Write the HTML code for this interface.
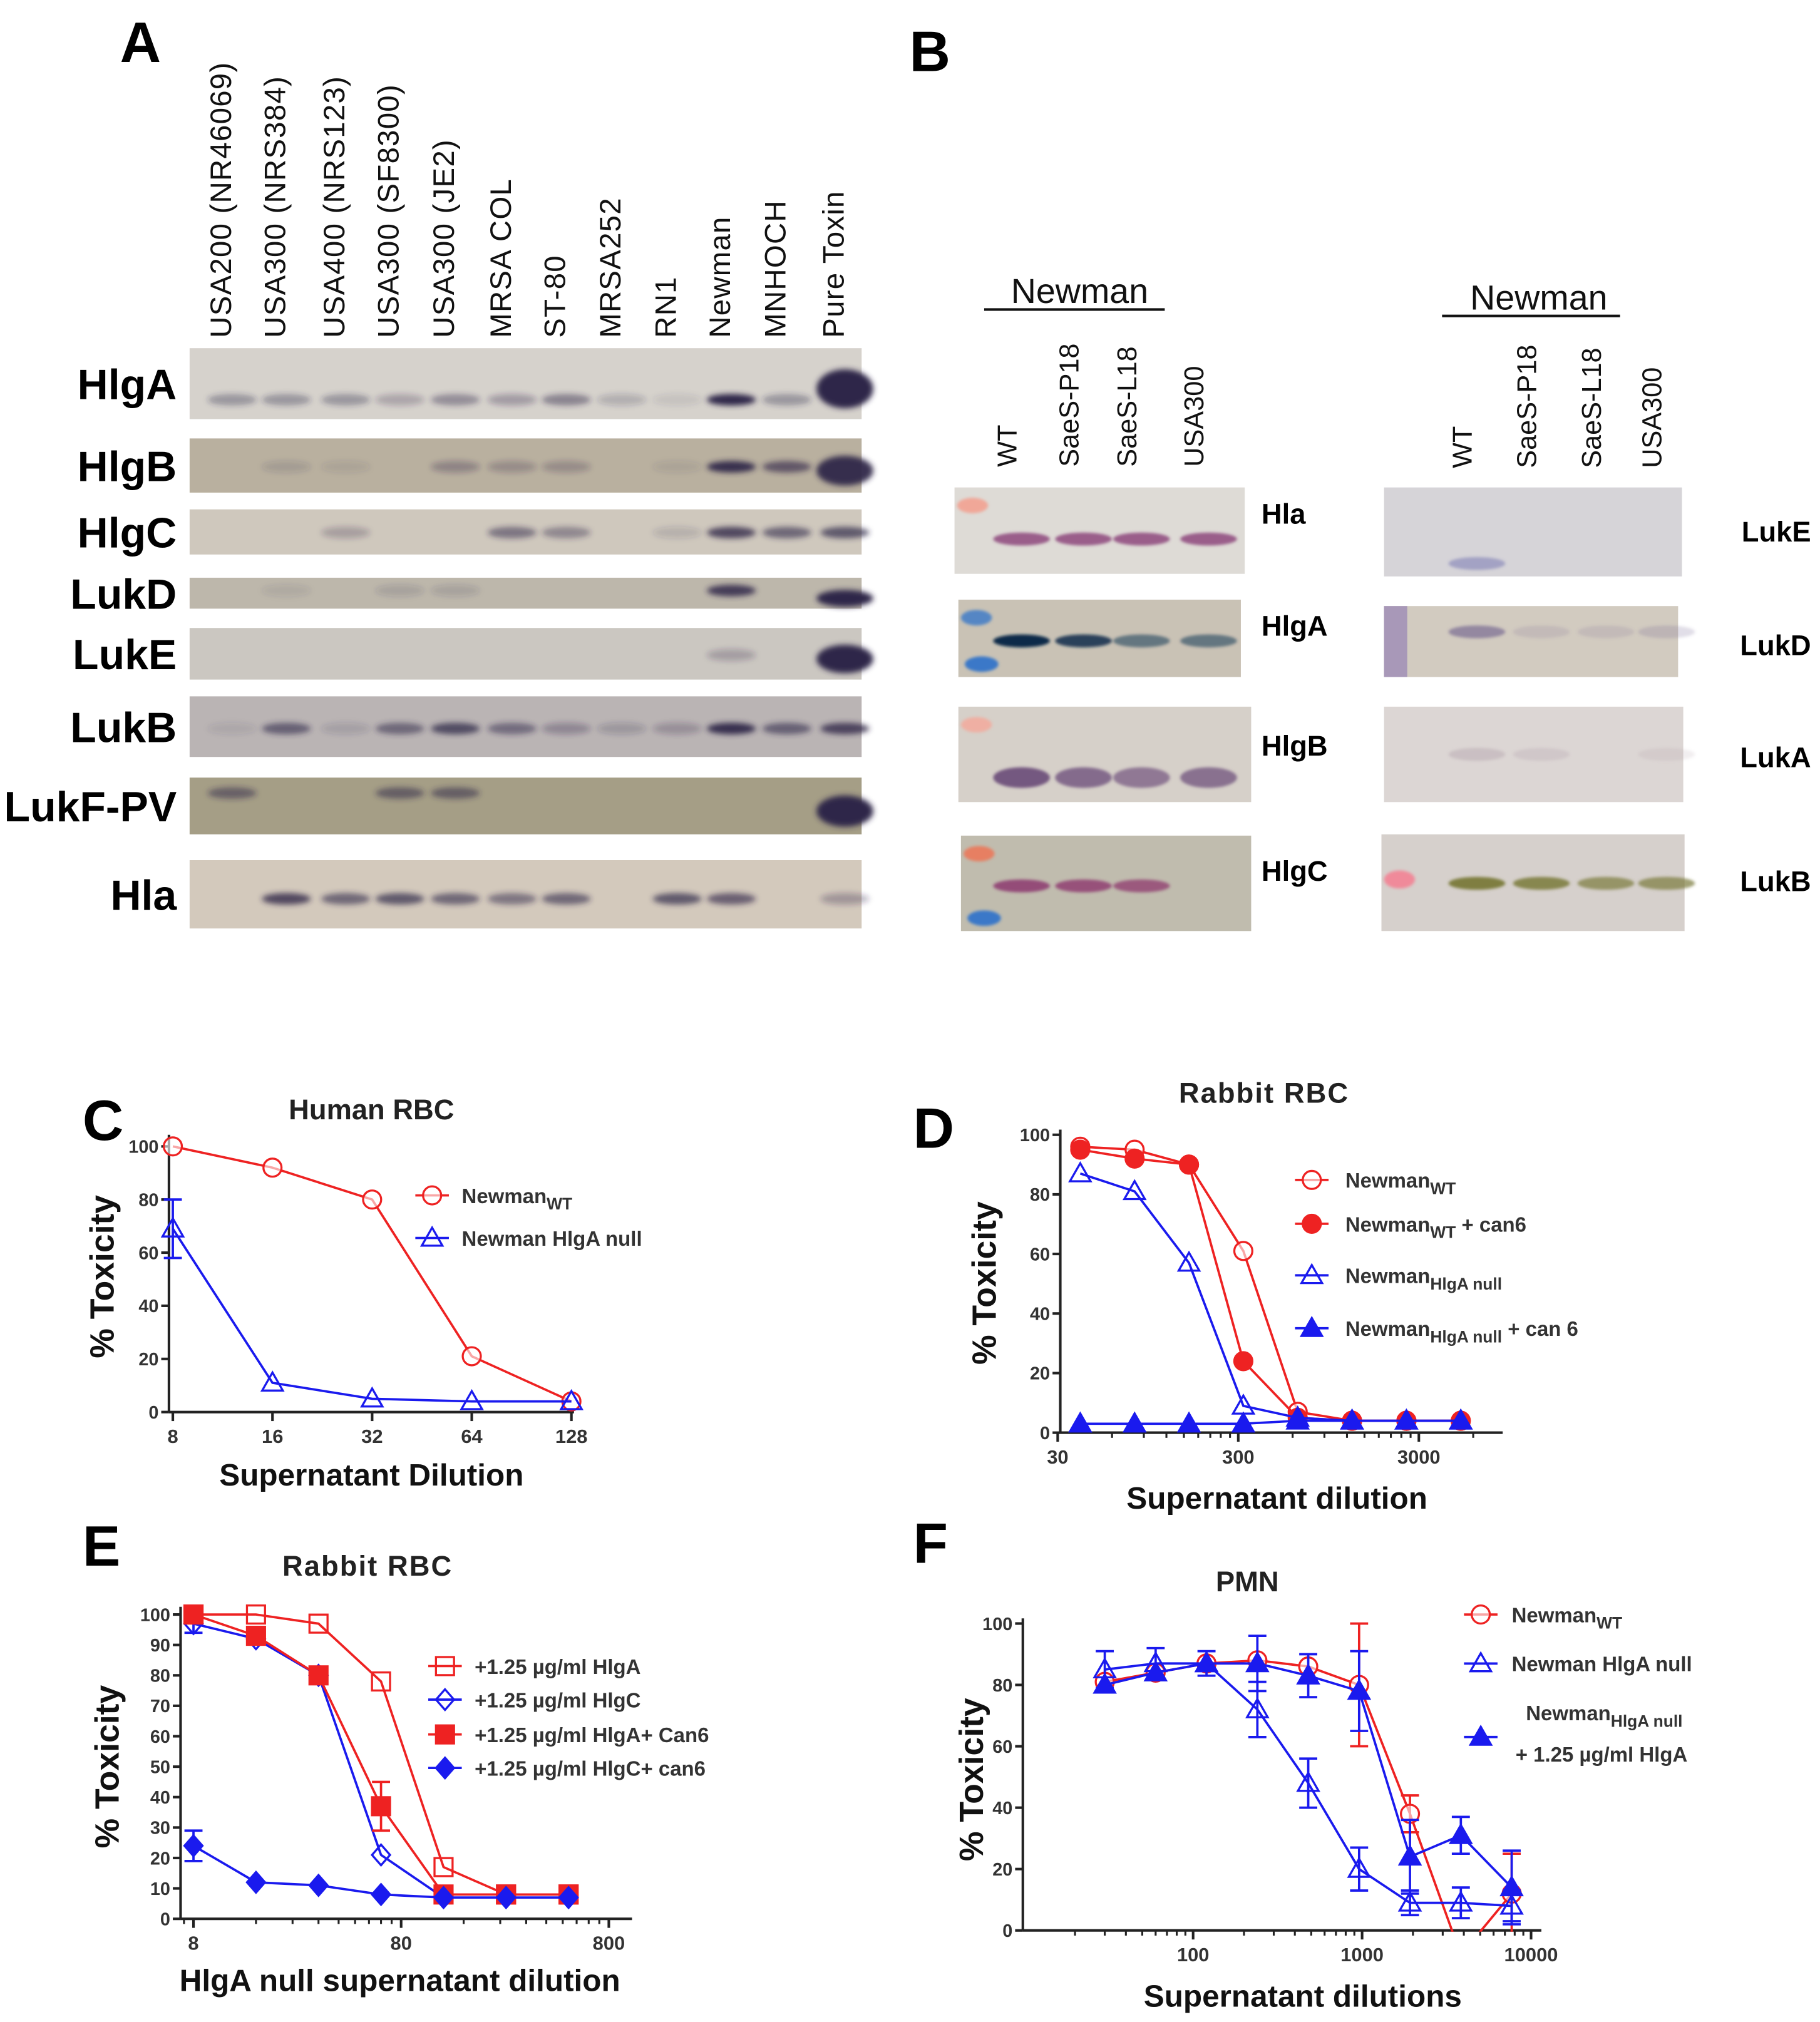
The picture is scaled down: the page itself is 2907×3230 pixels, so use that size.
<!DOCTYPE html>
<html><head><meta charset="utf-8"><style>
html,body{margin:0;padding:0;background:#fff;}
svg{display:block;}
text{font-family:"Liberation Sans",Arial,sans-serif;}
</style></head><body>
<svg id="fig" width="2907" height="3230" viewBox="0 0 1411 1568" preserveAspectRatio="none" xmlns="http://www.w3.org/2000/svg">
<defs>
<filter id="blur" x="-20%" y="-50%" width="140%" height="200%"><feGaussianBlur stdDeviation="2.2"/></filter>
<filter id="blur2" x="-20%" y="-50%" width="140%" height="200%"><feGaussianBlur stdDeviation="1.2"/></filter>
</defs>
<rect x="0" y="0" width="1411" height="1568" fill="#fff"/>
<g id="panelA"></g>
<g id="panelB"></g>
<g id="charts"></g>
</svg>
<script>
const NS="http://www.w3.org/2000/svg";
function el(parent,tag,attrs,txt){const e=document.createElementNS(NS,tag);for(const k in attrs)e.setAttribute(k,attrs[k]);if(txt!==undefined)e.textContent=txt;parent.appendChild(e);return e;}

/* ---------------- Panel A (western blots) ---------------- */
const laneNamesA=["USA200 (NR46069)","USA300 (NRS384)","USA400 (NRS123)","USA300 (SF8300)","USA300 (JE2)","MRSA COL","ST-80","MRSA252","RN1","Newman","MNHOCH","Pure Toxin"];
const laneXA=[170,212,258,300,343,387,429,472,515,557,600,645];
const rowsA=[
 {name:"HlgA",y0:270,y1:325,by:310,bg:"#d6d2cc",bands:[[0,.35],[1,.35],[2,.35],[3,.25],[4,.4],[5,.3],[6,.45],[7,.2],[8,.1],[9,1],[10,.35],[11,1]]},
 {name:"HlgB",y0:340,y1:382,by:362,bg:"#b9b09f",bands:[[1,.15],[2,.1],[4,.3],[5,.25],[6,.25],[8,.1],[9,.95],[10,.65],[11,.95]]},
 {name:"HlgC",y0:395,y1:430,by:413,bg:"#cfc8bd",bands:[[2,.25],[5,.5],[6,.4],[8,.15],[9,.8],[10,.6],[11,.7]]},
 {name:"LukD",y0:448,y1:472,by:458,bg:"#bdb7ab",bands:[[1,.1],[3,.15],[4,.15],[9,.85],[11,1]]},
 {name:"LukE",y0:487,y1:527,by:508,bg:"#cbc7c1",bands:[[9,.25],[11,1]]},
 {name:"LukB",y0:540,y1:587,by:565,bg:"#bab4b4",bands:[[0,.1],[1,.6],[2,.15],[3,.55],[4,.75],[5,.5],[6,.3],[7,.2],[8,.25],[9,.95],[10,.6],[11,.8]]},
 {name:"LukF-PV",y0:603,y1:647,by:615,bg:"#a59e86",bands:[[0,.5],[3,.55],[4,.55],[11,1]]},
 {name:"Hla",y0:667,y1:720,by:697,bg:"#d3c9bc",bands:[[1,.8],[2,.6],[3,.7],[4,.6],[5,.5],[6,.6],[8,.7],[9,.65],[11,.3]]}
];
(function(){
 const g=document.getElementById("panelA");
 const L=el(g,"text",{x:93,y:48,"font-size":44,"font-weight":"bold",fill:"#000"},"A");
 
 
 laneNamesA.forEach((n,i)=>{
  const t=el(g,"text",{x:0,y:0,"font-size":23,fill:"#111","letter-spacing":0.6,transform:`translate(${laneXA[i]+9},262) rotate(-90)`},n);
  
  
 });
 rowsA.forEach(r=>{
  const rg=el(g,"g",{});
  
  
  el(rg,"rect",{x:147,y:r.y0,width:521,height:r.y1-r.y0,fill:r.bg});
  r.bands.forEach(b=>{
   const cx=laneXA[b[0]]+10;
   const big=(b[0]===11&&b[1]>=.95);
   const h=big?(r.y1-r.y0)*0.55:9;
   const e=el(rg,"ellipse",{cx:cx,cy:big?(r.y0+r.y1)/2+4:r.by,rx:big?22:19,ry:h/2,fill:"#2e2648","fill-opacity":b[1],filter:"url(#blur)"});
   
   
  });
  const t=el(g,"text",{x:137,y:(r.y0+r.y1)/2+12,"font-size":33,"font-weight":"bold","text-anchor":"end",fill:"#000"},r.name);
  
  
 });
})();

/* ---------------- Panel B (western blots) ---------------- */
const laneNamesB=["WT","SaeS-P18","SaeS-L18","USA300"];
const laneXBL=[780,828,873,925];
const laneXBR=[1133,1183,1233,1280];
const blotsBL=[
 {name:"Hla",x0:740,x1:965,y0:378,y1:445,by:418,bg:"#dedbd6",col:"#8a3f78",ly:398,bands:[[0,.8],[1,.8],[2,.8],[3,.8]],ladder:"#f59a8a"},
 {name:"HlgA",x0:743,x1:962,y0:465,y1:525,by:497,bg:"#c9c2b5",col:"#0a2a4a",ly:485,bands:[[0,1],[1,.85],[2,.5],[3,.5]],ladder:"#3a78c8"},
 {name:"HlgB",x0:743,x1:970,y0:548,y1:622,by:603,bg:"#d6d0c9",col:"#6a4a78",ly:578,bands:[[0,.9],[1,.75],[2,.65],[3,.7]],ladder:"#f5a898"},
 {name:"HlgC",x0:745,x1:970,y0:648,y1:722,by:687,bg:"#c0bcae",col:"#8a2f6a",ly:675,bands:[[0,.8],[1,.75],[2,.7]],ladder:"#f07050"}
];
const blotsBR=[
 {name:"LukE",x0:1073,x1:1304,y0:378,y1:447,by:437,bg:"#d6d4d8",col:"#7070b0",ly:412,bands:[[0,.5]]},
 {name:"LukD",x0:1073,x1:1301,y0:470,y1:525,by:490,bg:"#d2cbc0",col:"#6a5a8a",ly:500,bands:[[0,.6],[1,.15],[2,.15],[3,.2]]},
 {name:"LukA",x0:1073,x1:1305,y0:548,y1:622,by:585,bg:"#dcd6d4",col:"#a08a9a",ly:587,bands:[[0,.3],[1,.2],[3,.15]]},
 {name:"LukB",x0:1071,x1:1306,y0:647,y1:722,by:685,bg:"#d6d0cc",col:"#7a7a3a",ly:683,bands:[[0,.95],[1,.85],[2,.7],[3,.7]]}
];
(function(){
 const g=document.getElementById("panelB");
 const L=el(g,"text",{x:705,y:55,"font-size":44,"font-weight":"bold",fill:"#000"},"B");
 
 
 [[837,235,763,903,240,laneXBL],[1193,240,1118,1256,245,laneXBR]].forEach((h,k)=>{
  const t=el(g,"text",{x:h[0],y:h[1],"font-size":27,"text-anchor":"middle",fill:"#111"},"Newman");
  
  
  el(g,"line",{x1:h[2],x2:h[3],y1:h[4],y2:h[4],stroke:"#111","stroke-width":2});
  laneNamesB.forEach((n,i)=>{
   const lt=el(g,"text",{x:0,y:0,"font-size":21,fill:"#111",transform:`translate(${h[5][i]+8},${k?363:362}) rotate(-90)`},n);
   
   
  });
 });
 function drawBlot(b,lanes,labX,anchor){
  const rg=el(g,"g",{});
  
  
  el(rg,"rect",{x:b.x0,y:b.y0,width:b.x1-b.x0,height:b.y1-b.y0,fill:b.bg});
  if(b.ladder){
   el(rg,"ellipse",{cx:b.x0+14,cy:b.y0+14,rx:12,ry:6,fill:b.ladder,"fill-opacity":.8,filter:"url(#blur2)"});
   if(b.name==="HlgA"||b.name==="HlgC") el(rg,"ellipse",{cx:b.x0+18,cy:b.y1-10,rx:13,ry:6,fill:"#3a78c8",filter:"url(#blur2)"});
  }
  if(b.name==="LukD") el(rg,"rect",{x:b.x0,y:b.y0,width:18,height:b.y1-b.y0,fill:"#a898b8"});
  if(b.name==="LukB") el(rg,"ellipse",{cx:b.x0+14,cy:b.by-3,rx:12,ry:7,fill:"#f08a9a",filter:"url(#blur2)"});
  b.bands.forEach(bd=>{
   const e=el(rg,"ellipse",{cx:lanes[bd[0]]+12,cy:b.by,rx:22,ry:b.name==="HlgB"?8:5,fill:b.col,"fill-opacity":bd[1],filter:"url(#blur2)"});
   
   
  });
  const t=el(g,"text",{x:labX,y:b.ly+8,"font-size":22,"font-weight":"bold","text-anchor":anchor,fill:"#000"},b.name);
  
  
 }
 blotsBL.forEach(b=>drawBlot(b,laneXBL,978,"start"));
 blotsBR.forEach(b=>drawBlot(b,laneXBR,1404,"end"));
})();

/* ---------------- Chart data ---------------- */
// Panel C
const cX=[8,16,32,64,128];
const cWT=[100,92,80,21,4];
const cNull=[69,11,5,4,4];
const cNullErr=[11,0,0,0,0];
const cXTicks=[8,16,32,64,128];
const cYTicks=[0,20,40,60,80,100];
// Panel D
const dX=[40,80,160,320,640,1280,2560,5120];
const dWT=[96,95,90,61,7,4,4,4];
const dWTcan=[95,92,90,24,5,4,4,4];
const dNull=[87,81,57,9,5,4,4,4];
const dNullCan=[3,3,3,3,4,4,4,4];
const dXTicks=[30,300,3000];
const dYTicks=[0,20,40,60,80,100];
// Panel E
const eX=[8,16,32,64,128,256,512];
const eHlgA=[100,100,97,78,17,8,8];
const eHlgC=[97,92,80,21,7,7,7];
const eHlgCErr=[3,0,0,0,0,0,0];
const eHlgAcan=[100,93,80,37,8,8,8];
const eHlgAcanErr=[0,0,0,8,0,0,0];
const eHlgCcan=[24,12,11,8,7,7,7];
const eHlgCcanErr=[5,0,0,0,0,0,0];
const eXTicks=[8,80,800];
const eYTicks=[0,10,20,30,40,50,60,70,80,90,100];
// Panel F
const fX=[30,60,120,240,480,960,1920,3840,7680];
const fWT=[81,84,87,88,86,80,38,-8,12];
const fWTErr=[0,0,0,0,0,20,6,0,13];
const fNull=[85,87,87,72,48,20,9,9,8];
const fNullErr=[6,5,4,9,8,7,4,5,5];
const fNullA=[80,84,87,87,83,78,24,31,14];
const fNullAErr=[0,0,0,9,7,13,12,6,12];
const fXTicks=[100,1000,10000];
const fYTicks=[0,20,40,60,80,100];

const RED="#ee2222", BLUE="#1a1aee";

function marker(g,type,x,y,color,name){
 let m;const r=7;
 if(type==="circle"||type==="fcircle") m=el(g,"circle",{cx:x,cy:y,r:r,fill:type==="fcircle"?color:"#fff","fill-opacity":type==="fcircle"?1:0.6,stroke:color,"stroke-width":1.6});
 else if(type==="tri"||type==="ftri") m=el(g,"polygon",{points:`${x},${y-8} ${x-8},${y+6} ${x+8},${y+6}`,fill:type==="ftri"?color:"none",stroke:color,"stroke-width":1.6});
 else if(type==="sq"||type==="fsq") m=el(g,"rect",{x:x-7,y:y-7,width:14,height:14,fill:type==="fsq"?color:"none",stroke:color,"stroke-width":1.6});
 else m=el(g,"polygon",{points:`${x},${y-8} ${x+7},${y} ${x},${y+8} ${x-7},${y}`,fill:type==="fdia"?color:"none",stroke:color,"stroke-width":1.6});
 
 
 return m;
}

function chart(cfg){
 const root=document.getElementById("charts");
 const g=el(root,"g",{});
 
 
 const lx0=Math.log10(cfg.xmin),lx1=Math.log10(cfg.xmax);
 const sx=v=>cfg.px0+(Math.log10(v)-lx0)/(lx1-lx0)*(cfg.px1-cfg.px0);
 const sy=v=>cfg.py0-(v-cfg.ymin)/(cfg.ymax-cfg.ymin)*(cfg.py0-cfg.py1);
 const pl=el(g,"text",{x:cfg.letter[1],y:cfg.letter[2],"font-size":44,"font-weight":"bold",fill:"#000"},cfg.letter[0]);
 
 
 const tt=el(g,"text",{x:cfg.title[1],y:cfg.title[2],"font-size":22,"font-weight":"bold","text-anchor":"middle",fill:"#222","letter-spacing":cfg.title[3]||0},cfg.title[0]);
 
 
 const ax=el(g,"g",{stroke:"#222","stroke-width":2});
 
 
 el(ax,"line",{x1:cfg.axX,x2:cfg.axX,y1:cfg.axYtop,y2:cfg.py0});
 el(ax,"line",{x1:cfg.axX,x2:cfg.axXend,y1:cfg.py0,y2:cfg.py0});
 cfg.yTicks.forEach(t=>{
  const y=sy(t);
  el(ax,"line",{x1:cfg.axX-6,x2:cfg.axX,y1:y,y2:y});
  const lt=el(g,"text",{x:cfg.axX-8,y:y+5,"font-size":14,"font-weight":"bold","text-anchor":"end",fill:"#333"},String(t));
  
  
 });
 cfg.xTicks.forEach(t=>{
  const x=sx(t);
  el(ax,"line",{x1:x,x2:x,y1:cfg.py0,y2:cfg.py0+7});
  const lt=el(g,"text",{x:x,y:cfg.py0+24,"font-size":15,"font-weight":"bold","text-anchor":"middle",fill:"#333"},String(t));
  
  
 });
 if(cfg.minor){
  for(let d=Math.floor(lx0)-1;d<lx1;d++){for(let k=2;k<10;k++){const v=Math.pow(10,d)*k*(cfg.minorBase||1);const x=sx(v);if(x>cfg.axX+2&&x<cfg.axXend)el(ax,"line",{x1:x,x2:x,y1:cfg.py0,y2:cfg.py0+4,"stroke-width":1.5});}}
 }
 const xt=el(g,"text",{x:cfg.xtitle[1],y:cfg.xtitle[2],"font-size":24,"font-weight":"bold","text-anchor":"middle",fill:"#111"},cfg.xtitle[0]);
 
 
 const yt=el(g,"text",{x:0,y:0,"font-size":26,"font-weight":"bold","text-anchor":"middle",fill:"#111",transform:`translate(${cfg.ytitle[0]},${cfg.ytitle[1]}) rotate(-90)`},"% Toxicity");
 
 
 const cid="clip-"+cfg.id;
 const cp=el(g,"clipPath",{id:cid});
 el(cp,"rect",{x:cfg.axX-15,y:cfg.axYtop-20,width:cfg.axXend-cfg.axX+30,height:cfg.py0-cfg.axYtop+21});
 cfg.series.forEach(s=>{
  const sg=el(g,"g",{"clip-path":`url(#${cid})`});
  
  
  const pts=cfg.x.map((xv,i)=>[sx(xv),sy(s.y[i])]);
  const pl=el(sg,"polyline",{points:pts.map(p=>p.join(",")).join(" "),fill:"none",stroke:s.color,"stroke-width":1.8});
  
  
  if(s.err) cfg.x.forEach((xv,i)=>{const e=s.err[i];if(!e)return;const x=sx(xv),y1=sy(s.y[i]+e),y2=sy(s.y[i]-e);
   el(sg,"line",{x1:x,x2:x,y1:y1,y2:y2,stroke:s.color,"stroke-width":1.8});
   el(sg,"line",{x1:x-7,x2:x+7,y1:y1,y2:y1,stroke:s.color,"stroke-width":1.8});
   el(sg,"line",{x1:x-7,x2:x+7,y1:y2,y2:y2,stroke:s.color,"stroke-width":1.8});});
  cfg.x.forEach((xv,i)=>{if(s.y[i]<cfg.ymin)return;marker(sg,s.m,sx(xv),sy(s.y[i]),s.color,cfg.id+'-point-'+s.name);});
 });
 cfg.legend.forEach((l,i)=>{
  const lg=el(g,"g",{});
  
  
  el(lg,"line",{x1:l.x-13,x2:l.x+13,y1:l.y,y2:l.y,stroke:l.color,"stroke-width":1.8});
  marker(lg,l.m,l.x,l.y,l.color,'legend-marker');
  const fs=l.fs||16;
  const t=el(lg,"text",{x:l.tx,y:(l.ty||l.y)+6,"font-size":fs,"font-weight":"bold",fill:"#333"});
  l.parts.forEach(p=>{const a={};if(p[1])a.dy=p[1];if(p[2])a["font-size"]=fs*0.8;el(t,"tspan",a,p[0]);});
  if(l.line2){el(lg,"text",{x:l.line2[1],y:l.line2[2],"font-size":fs,"font-weight":"bold",fill:"#333"},l.line2[0]);}
 });
}

chart({id:"chart-c",letter:["C",64,884],title:["Human RBC",288,868],xmin:8,xmax:128,px0:134,px1:443,ymin:0,ymax:100,py0:1095,py1:889,
 axX:131,axYtop:880,axXend:445,xTicks:cXTicks,yTicks:cYTicks,x:cX,xtitle:["Supernatant Dilution",288,1152],ytitle:[88,990],
 series:[{name:"wt",y:cWT,color:RED,m:"circle"},{name:"hlga-null",y:cNull,err:cNullErr,color:BLUE,m:"tri"}],
 legend:[{x:335,y:927,tx:358,color:RED,m:"circle",parts:[["Newman"],["WT","5",1]]},{x:335,y:960,tx:358,color:BLUE,m:"tri",parts:[["Newman HlgA null"]]}]});

chart({id:"chart-d",letter:["D",708,890],title:["Rabbit RBC",980,855,1],xmin:30,xmax:8000,px0:820,px1:820+140*Math.log10(8000/30),ymin:0,ymax:100,py0:1111,py1:880,
 axX:822,axYtop:876,axXend:1165,xTicks:dXTicks,yTicks:dYTicks,x:dX,minor:true,minorBase:3,xtitle:["Supernatant dilution",990,1170],ytitle:[772,995],
 series:[{name:"wt",y:dWT,color:RED,m:"circle"},{name:"wt-can6",y:dWTcan,color:RED,m:"fcircle"},{name:"hlga-null",y:dNull,color:BLUE,m:"tri"},{name:"hlga-null-can6",y:dNullCan,color:BLUE,m:"ftri"}],
 legend:[{x:1017,y:915,tx:1043,color:RED,m:"circle",parts:[["Newman"],["WT","5",1]]},
  {x:1017,y:949,tx:1043,color:RED,m:"fcircle",parts:[["Newman"],["WT","5",1],[" + can6","-5"]]},
  {x:1017,y:989,tx:1043,color:BLUE,m:"tri",parts:[["Newman"],["HlgA null","5",1]]},
  {x:1017,y:1030,tx:1043,color:BLUE,m:"ftri",parts:[["Newman"],["HlgA null","5",1],[" + can 6","-5"]]}]});

chart({id:"chart-e",letter:["E",64,1214],title:["Rabbit RBC",285,1222,1],xmin:6.8,xmax:1000,px0:150-161*Math.log10(8/6.8),px1:150+161*Math.log10(1000/8),ymin:0,ymax:100,py0:1488,py1:1252,
 axX:140,axYtop:1246,axXend:490,xTicks:eXTicks,yTicks:eYTicks,x:eX,minor:true,minorBase:0.8,xtitle:["HlgA null supernatant dilution",310,1544],ytitle:[92,1370],
 series:[{name:"hlga",y:eHlgA,color:RED,m:"sq"},{name:"hlgc",y:eHlgC,err:eHlgCErr,color:BLUE,m:"dia"},{name:"hlga-can6",y:eHlgAcan,err:eHlgAcanErr,color:RED,m:"fsq"},{name:"hlgc-can6",y:eHlgCcan,err:eHlgCcanErr,color:BLUE,m:"fdia"}],
 legend:[{x:345,y:1292,tx:368,color:RED,m:"sq",parts:[["+1.25 µg/ml HlgA"]]},{x:345,y:1318,tx:368,color:BLUE,m:"dia",parts:[["+1.25 µg/ml HlgC"]]},
  {x:345,y:1345,tx:368,color:RED,m:"fsq",parts:[["+1.25 µg/ml HlgA+ Can6"]]},{x:345,y:1371,tx:368,color:BLUE,m:"fdia",parts:[["+1.25 µg/ml HlgC+ can6"]]}]});

chart({id:"chart-f",letter:["F",708,1212],title:["PMN",967,1234],xmin:100*Math.pow(10,-(925-795)/131),xmax:10000,px0:795,px1:1187,ymin:0,ymax:100,py0:1497,py1:1259,
 axX:793,axYtop:1255,axXend:1195,xTicks:fXTicks,yTicks:fYTicks,x:fX,minor:true,xtitle:["Supernatant dilutions",1010,1556],ytitle:[762,1380],
 series:[{name:"wt",y:fWT,err:fWTErr,color:RED,m:"circle"},{name:"hlga-null",y:fNull,err:fNullErr,color:BLUE,m:"tri"},{name:"hlga-null-plus-hlga",y:fNullA,err:fNullAErr,color:BLUE,m:"ftri"}],
 legend:[{x:1148,y:1252,tx:1172,color:RED,m:"circle",parts:[["Newman"],["WT","5",1]]},{x:1148,y:1290,tx:1172,color:BLUE,m:"tri",parts:[["Newman HlgA null"]]},
  {x:1148,y:1347,tx:1183,ty:1328,color:BLUE,m:"ftri",parts:[["Newman"],["HlgA null","5",1]],line2:["+ 1.25 µg/ml HlgA",1175,1366]}]});
</script>
</body></html>
